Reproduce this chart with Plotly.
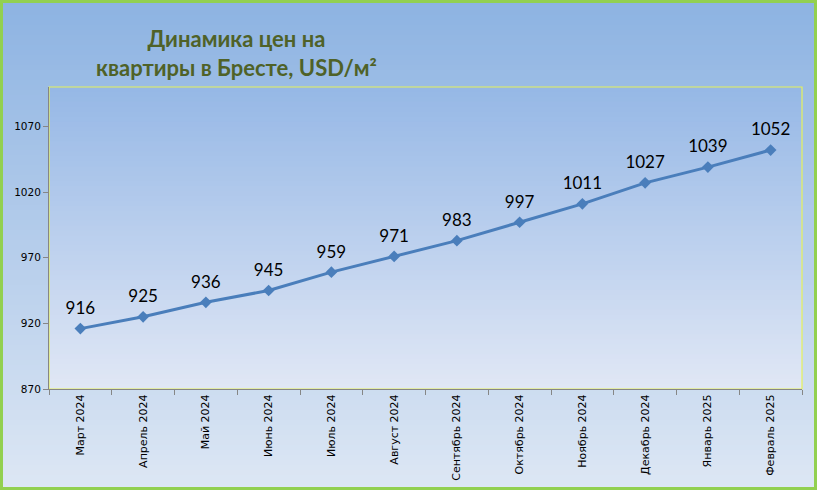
import plotly.graph_objects as go

months = ["Март 2024", "Апрель 2024", "Май 2024", "Июнь 2024", "Июль 2024", "Август 2024",
          "Сентябрь 2024", "Октябрь 2024", "Ноябрь 2024", "Декабрь 2024", "Январь 2025", "Февраль 2025"]
prices = [916, 925, 936, 945, 959, 971, 983, 997, 1011, 1027, 1039, 1052]
y_ticks = [870, 920, 970, 1020, 1070]

W, H = 817, 490
ML, MR, MT, MB = 49, 15, 87, 101
PW, PH = W - ML - MR, H - MT - MB


def lerp(c1, c2, t):
    return "rgb(%d,%d,%d)" % tuple(round(a + (b - a) * t) for a, b in zip(c1, c2))


shapes = []
# outer gradient (paper coords extend beyond plot domain)
px0, px1 = -ML / PW, (PW + MR) / PW
py0, py1 = -MB / PH, (PH + MT) / PH
n = 98
top_c, bot_c = (141, 179, 226), (221, 231, 244)
for i in range(n):
    t = i / (n - 1)
    ya = py1 - (py1 - py0) * i / n
    yb = py1 - (py1 - py0) * (i + 1.3) / n
    shapes.append(dict(type="rect", xref="paper", yref="paper", x0=px0, x1=px1, y0=max(yb, py0), y1=ya,
                       fillcolor=lerp(top_c, bot_c, t), line=dict(width=0), layer="below"))
# plot area gradient
m = 61
ptop, pbot = (150, 184, 230), (224, 231, 245)
for i in range(m):
    t = i / (m - 1)
    ya = 1 - i / m
    yb = 1 - (i + 1.3) / m
    shapes.append(dict(type="rect", xref="paper", yref="paper", x0=0, x1=1, y0=max(yb, 0), y1=ya,
                       fillcolor=lerp(ptop, pbot, t), line=dict(width=0), layer="below"))
# plot area yellow border
shapes.append(dict(type="rect", xref="paper", yref="paper", x0=0, x1=1, y0=0, y1=1,
                   fillcolor="rgba(0,0,0,0)", line=dict(color="#E6F25A", width=1.2), layer="below"))
# green outer border
shapes.append(dict(type="rect", xref="paper", yref="paper",
                   x0=px0 + 1.5 / PW, x1=px1 - 1.5 / PW, y0=py0 + 1.5 / PH, y1=py1 - 1.5 / PH,
                   fillcolor="rgba(0,0,0,0)", line=dict(color="#92D050", width=3), layer="above"))

fig = go.Figure()
fig.add_trace(go.Scatter(
    x=months, y=prices, mode="lines+markers",
    line=dict(color="#4A7EBB", width=3),
    marker=dict(symbol="diamond", size=9, color="#4A7EBB"),
    cliponaxis=False, showlegend=False, hoverinfo="x+y",
))
# value labels (invisible larger markers push text slightly higher)
fig.add_trace(go.Scatter(
    x=months, y=prices, mode="markers+text",
    text=[str(v) for v in prices], textposition="top center",
    textfont=dict(family="Lato, Open Sans, sans-serif", size=17, color="#000000"),
    marker=dict(size=15, color="rgba(0,0,0,0)"),
    cliponaxis=False, showlegend=False, hoverinfo="skip",
))

fig.update_layout(
    width=W, height=H,
    margin=dict(l=ML, r=MR, t=MT, b=MB, pad=0, autoexpand=False),
    paper_bgcolor="#B8CEEC", plot_bgcolor="rgba(0,0,0,0)",
    shapes=shapes,
    annotations=[dict(
        text="<b>Динамика цен на<br>квартиры в Бресте, USD/м²</b>",
        xref="paper", yref="paper", x=(236 - ML) / PW, y=(PH + MT - 53) / PH,
        xanchor="center", yanchor="middle", showarrow=False,
        font=dict(family="Lato, Open Sans, sans-serif", size=22, color="#4F6228"),
        align="center",
    )],
    xaxis=dict(
        type="category", tickson="boundaries", ticks="outside", ticklen=5, tickcolor="#868686",
        showline=True, linecolor="#868686", linewidth=1, showgrid=False, zeroline=False,
        automargin=False,
        tickangle=-90, tickfont=dict(family="DejaVu Sans, sans-serif", size=11, color="#000000"),
        range=[-0.5, len(months) - 0.5],
    ),
    yaxis=dict(
        range=[870, 1100], tickvals=y_ticks, ticktext=[str(v) for v in y_ticks],
        ticks="outside", ticklen=5, tickcolor="#868686",
        showline=True, linecolor="#868686", linewidth=1, showgrid=False, zeroline=False,
        automargin=False,
        tickfont=dict(family="DejaVu Sans, sans-serif", size=10.5, color="#000000"),
    ),
)

fig.write_html("out.html")
